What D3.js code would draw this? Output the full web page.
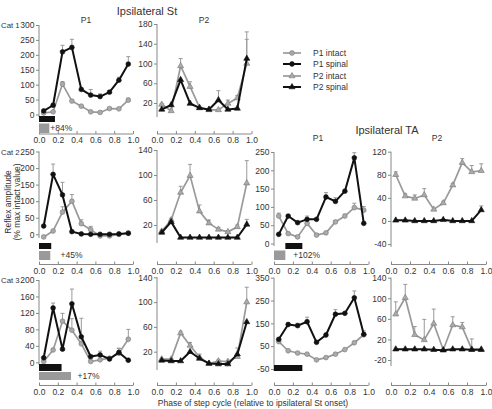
<!DOCTYPE html>
<html><head><meta charset="utf-8">
<script src="https://cdn.jsdelivr.net/npm/d3@7"></script>
<style>
body{margin:0;background:#fff}
svg{display:block}
text{font-family:"Liberation Sans",Arial,Helvetica,sans-serif;fill:#333}
</style>
</head><body><svg id="c" width="492" height="409"></svg>
<script>
// ---------- DATA ----------
const phases = [0.05,0.15,0.25,0.35,0.45,0.55,0.65,0.75,0.85,0.95];
const xTicks = [0,0.2,0.4,0.6,0.8,1.0];
const seriesNames = ["P1 intact","P1 spinal","P2 intact","P2 spinal"];

// Cat 1 – Ipsilateral St
const c1StP1Intact     = [5, 9, 102, 45, 28, 9, 7, 20, 19, 48];
const c1StP1IntactErr  = [2, 2, 8, 4, 2, 2, 2, 3, 3, 7];
const c1StP1Spinal     = [12, 31, 210, 225, 84, 65, 60, 75, 115, 169];
const c1StP1SpinalErr  = [0, 0, 22, 27, 0, 19, 9, 4, 10, 25];
const c1StP2Intact     = [17, 4, 95, 53, 11, 6, 6, 19, 30, 100];
const c1StP2IntactErr  = [2, 2, 15, 10, 2, 1, 1, 7, 5, 64];
const c1StP2Spinal     = [7, 16, 67, 19, 10, 7, 26, 7, 9, 110];
const c1StP2SpinalErr  = [0, 0, 0, 0, 0, 0, 19, 0, 0, 39];
// Cat 2 – Ipsilateral St
const c2StP1Intact     = [-8, 10, 67, 100, 32, 14, -5, -5, 0, 4];
const c2StP1IntactErr  = [0, 3, 16, 20, 12, 10, 2, 2, 2, 3];
const c2StP1Spinal     = [25, 181, 119, 8, 1, 0, 0, 0, 1, 3];
const c2StP1SpinalErr  = [0, 31, 38, 0, 0, 0, 0, 0, 0, 0];
const c2StP2Intact     = [10, 28, 72, 99, 42, 23, 13, 9, 17, 87];
const c2StP2IntactErr  = [2, 3, 10, 18, 10, 5, 3, 2, 3, 36];
const c2StP2Spinal     = [8, 25, 0, 0, 0, 0, 0, 0, 0, 21];
const c2StP2SpinalErr  = [0, 0, 0, 0, 0, 0, 0, 0, 0, 8];
// Cat 2 – Ipsilateral TA
const c2TaP1Intact     = [75, 27, 18, 55, 23, 29, 59, 75, 98, 91];
const c2TaP1IntactErr  = [8, 3, 3, 20, 3, 3, 3, 5, 12, 10];
const c2TaP1Spinal     = [25, 75, 57, 66, 66, 127, 115, 143, 234, 55];
const c2TaP1SpinalErr  = [0, 3, 2, 0, 0, 12, 10, 3, 14, 0];
const c2TaP2Intact     = [80, 43, 39, 45, 20, 31, 62, 101, 85, 87];
const c2TaP2IntactErr  = [5, 4, 6, 11, 0, 3, 3, 7, 11, 12];
const c2TaP2Spinal     = [1, 1, 0, 0, 0, 2, 0, 0, 0, 19];
const c2TaP2SpinalErr  = [0, 0, 0, 0, 0, 0, 0, 0, 0, 7];
// Cat 3 – Ipsilateral St
const c3StP1Intact     = [2, 30, 100, 78, 45, 2, 6, 10, 22, 56];
const c3StP1IntactErr  = [0, 3, 19, 28, 62, 2, 3, 3, 12, 24];
const c3StP1Spinal     = [11, 132, 32, 142, 62, 14, 18, 8, 24, 5];
const c3StP1SpinalErr  = [0, 12, 0, 36, 0, 0, 9, 0, 10, 0];
const c3StP2Intact     = [8, 8, 50, 30, 11, 1, 5, 4, 12, 100];
const c3StP2IntactErr  = [1, 1, 3, 5, 5, 1, 2, 2, 14, 24];
const c3StP2Spinal     = [6, 5, 5, 20, 9, 1, 0, 0, 16, 68];
const c3StP2SpinalErr  = [0, 0, 0, 0, 0, 0, 0, 0, 0, 0];
// Cat 3 – Ipsilateral TA
const c3TaP1Intact     = [70, 30, 20, 15, -10, 0, 15, 35, 65, 100];
const c3TaP1IntactErr  = [0, 0, 0, 0, 0, 0, 0, 0, 0, 0];
const c3TaP1Spinal     = [80, 145, 140, 157, 67, 99, 190, 194, 262, 102];
const c3TaP1SpinalErr  = [0, 5, 10, 20, 0, 0, 20, 0, 30, 15];
const c3TaP2Intact     = [69, 101, 29, 19, 51, 0, 48, 44, 1, 1];
const c3TaP2IntactErr  = [24, 26, 16, 40, 28, 0, 16, 9, 20, 0];
const c3TaP2Spinal     = [1, 1, 1, 1, 0, -1, 1, 1, 0, 0];
const c3TaP2SpinalErr  = [0, 0, 0, 0, 0, 0, 0, 0, 0, 0];

// y tick labels per panel
const ticksC1StP1 = [0,50,100,150,200,250,300];
const ticksC1StP2 = [20,60,100,140,180];
const ticksC2StP1 = [0,50,100,150,200,250];
const ticksC2StP2 = [20,60,100,140];
const ticksC2TaP1 = [0,50,100,150,200,250];
const ticksC2TaP2 = [-40,0,40,80,120];
const ticksC3StP1 = [0,40,80,120,160,200];
const ticksC3StP2 = [20,60,100,140];
const ticksC3TaP1 = [-50,50,150,250,350];
const ticksC3TaP2 = [-20,20,60,100,140];

// burst bars (phase start/end) and % labels
const barStarts   = [[0,0],[0,0],[0.12,0],[0,0],[0]];
const barEnds     = [[0.17,0.11],[0.13,0.12],[0.30,0.12],[0.24,0.34],[0.30]];
const barLabels   = ["+84%","+45%","+102%","+17%",null];

// ---------- LAYOUT ----------
const svg = d3.select("#c");
const FS = 8.5;
const colRange = {A:[39,133], B:[157,251.5], C:[274,368.5], D:[391,486]};
const xAxisY = {1:134, 2:264.5, 3:385.5};
const GRAY = "#9a9a9a", BLACK = "#111";

function drawPanel(cfg){
  const x = d3.scaleLinear().domain([0,1]).range(colRange[cfg.col]);
  const t = cfg.ticks;
  const y = d3.scaleLinear().domain([t[0], t[t.length-1]]).range([cfg.yBot, cfg.yTop]);
  const g = svg.append("g");
  const ga = g.append("g").attr("transform",`translate(${x(0)},0)`)
    .call(d3.axisLeft(y).tickValues(t).tickSize(3).tickPadding(1.5).tickFormat(d=>d));
  ga.select(".domain").remove();
  ga.append("line").attr("x1",0).attr("x2",0).attr("y1",y(t[t.length-1])).attr("y2",cfg.axisEnd)
    .attr("stroke","#888").attr("stroke-width",1);
  ga.selectAll(".tick line").attr("stroke","#888");
  ga.selectAll("text").attr("font-size",FS).attr("fill","#333")
    .style("font-family",'"Liberation Sans",Arial,sans-serif');
  const gx = g.append("g").attr("transform",`translate(0,${xAxisY[cfg.row]})`)
    .call(d3.axisBottom(x).tickValues(xTicks).tickSize(-3).tickPadding(3).tickFormat(d3.format(".1f")));
  gx.select(".domain").attr("stroke","#888").attr("d",`M${x(0)},0H${x(1)}`);
  gx.selectAll(".tick line").attr("stroke","#888");
  gx.selectAll("text").attr("font-size",FS).attr("fill","#333")
    .style("font-family",'"Liberation Sans",Arial,sans-serif');
  cfg.series.forEach(s=>{
    const pts = phases.map((p,i)=>({p, v:s.values[i], e:s.err[i]}));
    const col = s.color;
    pts.filter(d=>d.e>0).forEach(d=>{
      g.append("line").attr("x1",x(d.p)).attr("x2",x(d.p)).attr("y1",y(d.v)).attr("y2",y(d.v+d.e))
        .attr("stroke", "#999").attr("stroke-width",1);
      g.append("line").attr("x1",x(d.p)-2).attr("x2",x(d.p)+2).attr("y1",y(d.v+d.e)).attr("y2",y(d.v+d.e))
        .attr("stroke", "#999").attr("stroke-width",1);
    });
    g.append("path").datum(pts).attr("fill","none").attr("stroke",col)
      .attr("stroke-width", col===BLACK?2:1.7).attr("stroke-linejoin","round")
      .attr("d", d3.line().x(d=>x(d.p)).y(d=>y(d.v)));
    const sym = d3.symbol().type(s.marker==="circle"?d3.symbolCircle:d3.symbolTriangle).size(s.marker==="circle"?18:16);
    g.selectAll(null).data(pts).enter().append("path")
      .attr("transform",d=>`translate(${x(d.p)},${y(d.v)})`)
      .attr("d",sym)
      .attr("fill", col===BLACK?BLACK:"#aaa")
      .attr("stroke", col===BLACK?BLACK:"#777").attr("stroke-width",0.6);
  });
}

function mk(values, err, color, marker){ return {values, err, color, marker}; }

const P = [
 {col:"A",row:1,ticks:ticksC1StP1,yTop:25,yBot:114.5,axisEnd:117,
  series:[mk(c1StP1Intact,c1StP1IntactErr,GRAY,"circle"),mk(c1StP1Spinal,c1StP1SpinalErr,BLACK,"circle")]},
 {col:"B",row:1,ticks:ticksC1StP2,yTop:24,yBot:103,axisEnd:117,
  series:[mk(c1StP2Intact,c1StP2IntactErr,GRAY,"tri"),mk(c1StP2Spinal,c1StP2SpinalErr,BLACK,"tri")]},
 {col:"A",row:2,ticks:ticksC2StP1,yTop:151.5,yBot:234.3,axisEnd:238,
  series:[mk(c2StP1Intact,c2StP1IntactErr,GRAY,"circle"),mk(c2StP1Spinal,c2StP1SpinalErr,BLACK,"circle")]},
 {col:"B",row:2,ticks:ticksC2StP2,yTop:150,yBot:225,axisEnd:243,
  series:[mk(c2StP2Intact,c2StP2IntactErr,GRAY,"tri"),mk(c2StP2Spinal,c2StP2SpinalErr,BLACK,"tri")]},
 {col:"C",row:2,ticks:ticksC2TaP1,yTop:152,yBot:243.5,axisEnd:246,
  series:[mk(c2TaP1Intact,c2TaP1IntactErr,GRAY,"circle"),mk(c2TaP1Spinal,c2TaP1SpinalErr,BLACK,"circle")]},
 {col:"D",row:2,ticks:ticksC2TaP2,yTop:151.7,yBot:244,axisEnd:247,
  series:[mk(c2TaP2Intact,c2TaP2IntactErr,GRAY,"tri"),mk(c2TaP2Spinal,c2TaP2SpinalErr,BLACK,"tri")]},
 {col:"A",row:3,ticks:ticksC3StP1,yTop:280,yBot:362.3,axisEnd:365,
  series:[mk(c3StP1Intact,c3StP1IntactErr,GRAY,"circle"),mk(c3StP1Spinal,c3StP1SpinalErr,BLACK,"circle")]},
 {col:"B",row:3,ticks:ticksC3StP2,yTop:277.3,yBot:351.7,axisEnd:370,
  series:[mk(c3StP2Intact,c3StP2IntactErr,GRAY,"tri"),mk(c3StP2Spinal,c3StP2SpinalErr,BLACK,"tri")]},
 {col:"C",row:3,ticks:ticksC3TaP1,yTop:277.7,yBot:369,axisEnd:371,
  series:[mk(c3TaP1Intact,c3TaP1IntactErr,GRAY,"circle"),mk(c3TaP1Spinal,c3TaP1SpinalErr,BLACK,"circle")]},
 {col:"D",row:3,ticks:ticksC3TaP2,yTop:277.7,yBot:360,axisEnd:366,
  series:[mk(c3TaP2Intact,c3TaP2IntactErr,GRAY,"tri"),mk(c3TaP2Spinal,c3TaP2SpinalErr,BLACK,"tri")]}
];
P.forEach(drawPanel);

// burst bars
const barLayout = [
  {col:"A", blackY:[116,122], grayY:[123.5,133], labelP:0.12},
  {col:"A", blackY:[243,249], grayY:[251,260], labelP:0.23},
  {col:"C", blackY:[243,249], grayY:[250.5,260], labelP:0.205},
  {col:"A", blackY:[364,371], grayY:[372,380], labelP:0.41},
  {col:"C", blackY:[365,371], grayY:null, labelP:null}
];
barLayout.forEach((b,i)=>{
  const x = d3.scaleLinear().domain([0,1]).range(colRange[b.col]);
  svg.append("rect").attr("x",x(barStarts[i][0])).attr("width",x(barEnds[i][0])-x(barStarts[i][0]))
    .attr("y",b.blackY[0]).attr("height",b.blackY[1]-b.blackY[0]).attr("fill","#111");
  if(b.grayY){
    svg.append("rect").attr("x",x(barStarts[i][1])).attr("width",x(barEnds[i][1])-x(barStarts[i][1]))
      .attr("y",b.grayY[0]).attr("height",b.grayY[1]-b.grayY[0]).attr("fill","#9a9a9a");
  }
  if(barLabels[i]){
    svg.append("text").attr("x",x(b.labelP)).attr("y",(b.grayY[0]+b.grayY[1])/2).attr("dy","0.35em")
      .attr("font-size",FS).text(barLabels[i]);
  }
});

// titles
const T = (x,y,s,size,anchor)=>svg.append("text").attr("x",x).attr("y",y).attr("font-size",size)
  .attr("text-anchor",anchor||"middle").text(s);
T(147,15,"Ipsilateral St",11);
T(86,23,"P1",FS); T(204,23,"P2",FS);
T(387,134,"Ipsilateral TA",11);
T(318,141,"P1",FS); T(437,141,"P2",FS);
T(1,28,"Cat 1",7.8,"start");
T(1,155,"Cat 2",7.8,"start");
T(1,283,"Cat 3",7.8,"start");
svg.append("text").attr("transform","translate(10.5,202) rotate(-90)").attr("text-anchor","middle")
  .attr("font-size",FS).text("Reflex amplitude");
svg.append("text").attr("transform","translate(20,202) rotate(-90)").attr("text-anchor","middle")
  .attr("font-size",FS).text("(% max intact value)");
T(253,406,"Phase of step cycle (relative to ipsilateral St onset)",FS);

// legend
const legColors = [GRAY,BLACK,GRAY,BLACK];
const legMarkers = ["circle","circle","tri","tri"];
const legY = [53,64,76,87];
seriesNames.forEach((n,i)=>{
  const g = svg.append("g").attr("transform",`translate(0,${legY[i]})`);
  g.append("line").attr("x1",283).attr("x2",301).attr("y1",0).attr("y2",0)
    .attr("stroke",legColors[i]).attr("stroke-width",legColors[i]===BLACK?2:1.7);
  const sym = d3.symbol().type(legMarkers[i]==="circle"?d3.symbolCircle:d3.symbolTriangle).size(legMarkers[i]==="circle"?18:16);
  g.append("path").attr("transform","translate(292,0)").attr("d",sym)
    .attr("fill",legColors[i]===BLACK?BLACK:"#aaa").attr("stroke",legColors[i]===BLACK?BLACK:"#777").attr("stroke-width",0.6);
  g.append("text").attr("x",313).attr("y",0).attr("dy","0.35em").attr("font-size",FS).text(n);
});
</script>
</body></html>
